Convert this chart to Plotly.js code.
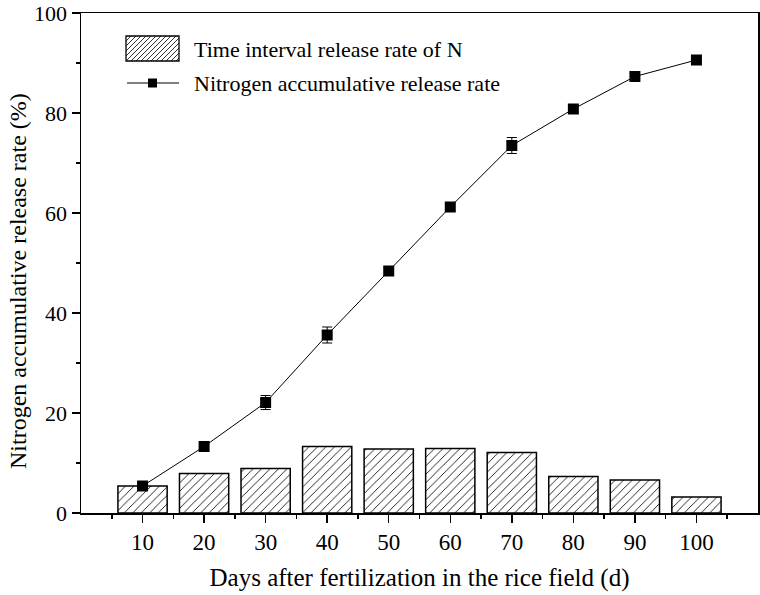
<!DOCTYPE html>
<html>
<head>
<meta charset="utf-8">
<script src="https://cdn.plot.ly/plotly-3.0.1.min.js"></script>
<style>html,body{margin:0;padding:0;background:#fff;}#chart{width:760px;height:595px;}</style>
</head>
<body>
<div id="chart"></div>
<script>
const days = [10, 20, 30, 40, 50, 60, 70, 80, 90, 100];
const intervalRate = [5.4, 7.9, 8.9, 13.3, 12.8, 12.9, 12.1, 7.3, 6.6, 3.2];
const cumulativeRate = [5.4, 13.3, 22.1, 35.6, 48.4, 61.2, 73.5, 80.8, 87.3, 90.6];
const cumulativeErr = [0.4, 0.6, 1.4, 1.6, 0.8, 0.7, 1.6, 0.6, 0.6, 0.6];
const xTickVals = [10, 20, 30, 40, 50, 60, 70, 80, 90, 100];
const yTickVals = [0, 20, 40, 60, 80, 100];
const seriesNames = ['Time interval release rate of N', 'Nitrogen accumulative release rate'];
const xTitle = 'Days after fertilization in the rice field (d)';
const yTitle = 'Nitrogen accumulative release rate (%)';

const FONT = "Liberation Serif, Times New Roman, serif";

// layout geometry (pixels)
const W = 760, H = 595;
const M = {l: 81, r: 2, t: 13, b: 82};
const PW = W - M.l - M.r, PH = H - M.t - M.b;
const px2x = p => (p - M.l) / PW;
const py2y = p => (H - M.b - p) / PH;

const traces = [
  {
    type: 'bar',
    name: seriesNames[0],
    x: days,
    y: intervalRate,
    width: 8,
    showlegend: false,
    marker: {
      color: '#ffffff',
      line: {color: '#000000', width: 1.5},
      pattern: {shape: '/', fgcolor: '#000000', bgcolor: '#ffffff', size: 6, solidity: 0.14}
    }
  },
  {
    type: 'scatter',
    mode: 'lines+markers',
    name: seriesNames[1],
    x: days,
    y: cumulativeRate,
    showlegend: false,
    line: {color: '#000000', width: 1},
    marker: {symbol: 'square', size: 11, color: '#000000'},
    error_y: {type: 'data', array: cumulativeErr, visible: true, color: '#000000', thickness: 1, width: 5}
  }
];

// custom legend (hatched box + line with marker)
const box = {x0: 126, x1: 179, y0: 36, y1: 61};
let hatch = '';
const step = 5;
for (let c = box.x0 + box.y0 + step; c < box.x1 + box.y1; c += step) {
  const xa = Math.max(box.x0, c - box.y1), xb = Math.min(box.x1, c - box.y0);
  if (xb <= xa) continue;
  hatch += `M${px2x(xa)},${py2y(c - xa)}L${px2x(xb)},${py2y(c - xb)}`;
}
const shapes = [
  {type: 'path', xref: 'paper', yref: 'paper', path: hatch, line: {color: '#000', width: 0.8}},
  {type: 'rect', xref: 'paper', yref: 'paper', x0: px2x(box.x0), x1: px2x(box.x1), y0: py2y(box.y1), y1: py2y(box.y0), line: {color: '#000', width: 1.3}},
  {type: 'line', xref: 'paper', yref: 'paper', x0: px2x(127), x1: px2x(179), y0: py2y(83), y1: py2y(83), line: {color: '#000', width: 1}},
  {type: 'rect', xref: 'paper', yref: 'paper', x0: px2x(148), x1: px2x(157), y0: py2y(87.5), y1: py2y(78.5), fillcolor: '#000', line: {color: '#000', width: 0}}
];
const annotations = [
  {xref: 'paper', yref: 'paper', x: px2x(192), y: py2y(50), xanchor: 'left', yanchor: 'middle', showarrow: false, text: seriesNames[0], font: {family: FONT, size: 22, color: '#000'}},
  {xref: 'paper', yref: 'paper', x: px2x(192), y: py2y(83), xanchor: 'left', yanchor: 'middle', showarrow: false, text: seriesNames[1], font: {family: FONT, size: 22, color: '#000'}},
  {xref: 'paper', yref: 'paper', x: px2x(18), y: py2y(281), xanchor: 'center', yanchor: 'middle', textangle: -90, showarrow: false, text: yTitle, font: {family: FONT, size: 24, color: '#000'}}
];

const layout = {
  width: W,
  height: H,
  margin: M,
  paper_bgcolor: '#ffffff',
  plot_bgcolor: '#ffffff',
  font: {family: FONT, size: 22, color: '#000000'},
  showlegend: false,
  shapes: shapes,
  annotations: annotations,
  xaxis: {
    range: [0, 110],
    tickvals: xTickVals,
    ticktext: xTickVals.map(String),
    ticks: 'outside', ticklen: 8, tickwidth: 1.5, tickcolor: '#000',
    minor: {dtick: 10, tick0: 5, ticks: 'outside', ticklen: 4, tickwidth: 1.5, tickcolor: '#000', showgrid: false},
    showline: true, linecolor: '#000', linewidth: 1.5, mirror: true,
    showgrid: false, zeroline: false,
    tickfont: {family: FONT, size: 23},
    title: {text: xTitle, font: {family: FONT, size: 25}, standoff: 14}
  },
  yaxis: {
    range: [0, 100],
    tickvals: yTickVals,
    ticks: 'outside', ticklen: 8, tickwidth: 1.5, tickcolor: '#000',
    minor: {dtick: 20, tick0: 10, ticks: 'outside', ticklen: 4, tickwidth: 1.5, tickcolor: '#000', showgrid: false},
    showline: true, linecolor: '#000', linewidth: 1.5, mirror: true,
    showgrid: false, zeroline: false,
    tickfont: {family: FONT, size: 22},
    ticklabeloverflow: 'allow'
  }
};

Plotly.newPlot('chart', traces, layout, {displayModeBar: false, staticPlot: true});
</script>
</body>
</html>
